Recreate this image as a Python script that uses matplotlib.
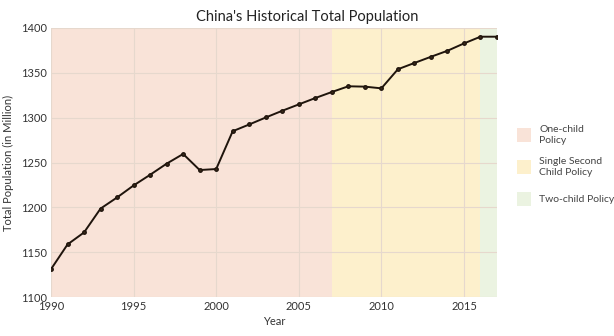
import matplotlib.pyplot as plt
from matplotlib.patches import Rectangle

plt.rcParams['font.family'] = ['Lato', 'DejaVu Sans']

# data
years = list(range(1990, 2018))
population = [1131, 1158.6, 1172, 1198.6, 1211, 1224.4, 1236.3, 1248.7, 1259.5,
              1241.6, 1242.7, 1284.9, 1292.4, 1300.2, 1307.7, 1314.8, 1321.9,
              1328.6, 1335, 1334.6, 1332.7, 1354, 1361, 1367.9, 1374.6, 1382.8,
              1390.3, 1390.3]

policy_names = ['One-child\nPolicy', 'Single Second\nChild Policy', 'Two-child Policy']
policy_start = [1990, 2007, 2016]
policy_end = [2007, 2016, 2017]
policy_colors = ['#f9e3d8', '#fdf0cc', '#ebf3e1']

W, H = 614, 336
fig = plt.figure(figsize=(W / 100, H / 100), dpi=100)
ax = fig.add_axes([51 / W, 1 - 297 / H, 446 / W, 269 / H])

# policy periods as background bands
for s, e, c in zip(policy_start, policy_end, policy_colors):
    ax.axvspan(s, e, color=c, zorder=0, lw=0)

ax.grid(True, color='#e6d8cd', lw=0.8)
ax.set_axisbelow(False)
for line in ax.get_xgridlines() + ax.get_ygridlines():
    line.set_zorder(0.5)

ax.plot(years, population, color='#1f140c', lw=1.4, marker='o', ms=2.5,
        markerfacecolor='#3a2a1a', markeredgecolor='#1f140c', zorder=3)

ax.set_xlim(1990, 2017)
ax.set_ylim(1100, 1400)
ax.set_xticks([1990, 1995, 2000, 2005, 2010, 2015])
ax.set_yticks(range(1100, 1401, 50))
ax.tick_params(length=0, labelsize=8, colors='#333333', pad=3)
for sp in ax.spines.values():
    sp.set_visible(False)

ax.set_xlabel('Year', fontsize=8, color='#333333', labelpad=3)
ax.set_ylabel('Total Population (in Million)', fontsize=8, color='#333333', labelpad=5)
fig.text(0.5, 1 - 17 / H, "China's Historical Total Population", ha='center', va='center',
         fontsize=10.5, color='#222222')

# legend squares + labels
sq_top = [128, 160, 192]
for name, c, t in zip(policy_names, policy_colors, sq_top):
    fig.add_artist(Rectangle((517 / W, 1 - (t + 14) / H), 14 / W, 14 / H,
                             facecolor=c, edgecolor='none', transform=fig.transFigure))
    fig.text(539 / W, 1 - (t + 7) / H, name, ha='left', va='center', fontsize=7.5,
             color='#444444', linespacing=1.4)

fig.savefig('out.png', dpi=100)
